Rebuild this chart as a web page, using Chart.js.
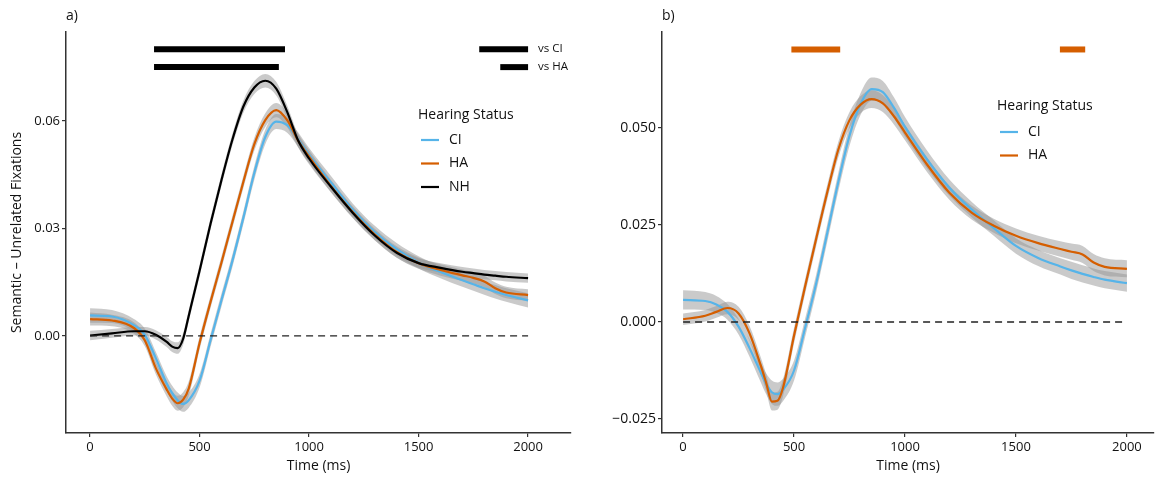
<!DOCTYPE html>
<html><head><meta charset="utf-8">
<script src="https://cdn.jsdelivr.net/npm/chart.js@4.4.1/dist/chart.umd.min.js"></script>
<style>
html,body{margin:0;padding:0;background:#fff;}
#wrap{position:relative;width:1157px;height:479px;overflow:hidden;}
canvas{position:absolute;top:0;}
#ca{left:0;}
#cb{left:580px;}
</style></head><body>
<div id="wrap"><canvas id="ca" width="580" height="479"></canvas><canvas id="cb" width="577" height="479"></canvas></div>
<script>
// ---------- DATA ----------
const xTicks = [0, 500, 1000, 1500, 2000];
const xTickLabels = ['0', '500', '1000', '1500', '2000'];
const yTicksA = [0, 0.03, 0.06];
const yTickLabelsA = ['0.00', '0.03', '0.06'];
const yTicksB = [-0.025, 0, 0.025, 0.05];
const yTickLabelsB = ['\u22120.025', '0.000', '0.025', '0.050'];
const groupsA = ['CI', 'HA', 'NH'];
const groupsB = ['CI', 'HA'];

// Panel a
const timesA = [0,100,200,250,300,350,375,400,425,450,500,550,600,650,700,750,800,850,900,950,1000,1100,1200,1300,1400,1500,1600,1700,1750,1800,1850,1900,2000];
const ciA = [0.0057,0.0054,0.0030,0.0003,-0.0062,-0.0133,-0.0160,-0.0180,-0.0190,-0.0180,-0.0125,-0.0012,0.0100,0.0210,0.0330,0.0455,0.0555,0.0598,0.0588,0.0548,0.0505,0.0428,0.0352,0.0290,0.0242,0.0205,0.0178,0.0155,0.0144,0.0133,0.0123,0.0114,0.0099];
const haA = [0.0047,0.0043,0.0022,-0.0013,-0.0090,-0.0150,-0.0175,-0.0188,-0.0178,-0.0148,-0.0020,0.0095,0.0205,0.0318,0.0430,0.0535,0.0602,0.0630,0.0602,0.0545,0.0500,0.0418,0.0345,0.0283,0.0234,0.0203,0.0184,0.0169,0.0162,0.0152,0.0133,0.0121,0.0114];
const nhA = [0.0001,0.0007,0.0013,0.0013,0.0003,-0.0017,-0.0030,-0.0034,-0.0008,0.0055,0.0182,0.0313,0.0435,0.0548,0.0640,0.0693,0.0712,0.0690,0.0625,0.0545,0.0495,0.0416,0.0343,0.0280,0.0232,0.0203,0.0190,0.0179,0.0175,0.0171,0.0168,0.0165,0.0161];
const ciA_ci = [0.0020,0.0018,0.0017,0.0017,0.0018,0.0020,0.0021,0.0022,0.0022,0.0021,0.0019,0.0018,0.0018,0.0018,0.0018,0.0019,0.0020,0.0021,0.0021,0.0020,0.0019,0.0018,0.0017,0.0017,0.0017,0.0017,0.0017,0.0018,0.0018,0.0018,0.0019,0.0019,0.0020];
const haA_ci = [0.0018,0.0016,0.0016,0.0016,0.0017,0.0019,0.0020,0.0021,0.0021,0.0020,0.0018,0.0017,0.0017,0.0017,0.0017,0.0018,0.0019,0.0020,0.0020,0.0019,0.0018,0.0017,0.0016,0.0016,0.0016,0.0016,0.0016,0.0016,0.0016,0.0016,0.0016,0.0016,0.0016];
const nhA_ci = [0.0013,0.0012,0.0012,0.0012,0.0013,0.0014,0.0015,0.0016,0.0016,0.0016,0.0016,0.0016,0.0016,0.0016,0.0017,0.0018,0.0019,0.0019,0.0018,0.0017,0.0016,0.0015,0.0014,0.0013,0.0013,0.0013,0.0013,0.0013,0.0013,0.0013,0.0013,0.0013,0.0013];
// significance bars (NH vs CI, NH vs HA) and their keys
const sigA_vsCI = [292, 890];
const sigA_vsHA = [292, 862];
const keyA_vsCI = [1777, 2000];
const keyA_vsHA = [1873, 2000];
const sigA_levels = [0.0800, 0.0750];
const sigA_keyLabels = ['vs CI', 'vs HA'];

// Panel b
const timesB = [0,100,150,200,250,300,350,375,400,425,450,500,550,600,650,700,750,800,850,900,950,1000,1100,1200,1300,1400,1500,1600,1700,1750,1800,1850,1900,2000];
const ciB = [0.0057,0.0054,0.0045,0.0026,-0.0012,-0.0068,-0.0130,-0.0160,-0.0181,-0.0186,-0.0175,-0.0125,-0.0015,0.0100,0.0230,0.0362,0.0480,0.0562,0.0600,0.0592,0.0552,0.0503,0.0418,0.0346,0.0290,0.0242,0.0196,0.0165,0.0143,0.0133,0.0124,0.0116,0.0109,0.0100];
const haB = [0.0007,0.0016,0.0026,0.0036,0.0022,-0.0030,-0.0112,-0.0158,-0.0205,-0.0203,-0.0170,-0.0035,0.0092,0.0215,0.0335,0.0445,0.0520,0.0560,0.0574,0.0563,0.0530,0.0488,0.0405,0.0333,0.0282,0.0248,0.0222,0.0203,0.0188,0.0181,0.0174,0.0153,0.0142,0.0137];
const ciB_ci = [0.0025,0.0023,0.0022,0.0020,0.0020,0.0022,0.0025,0.0027,0.0030,0.0030,0.0029,0.0026,0.0024,0.0023,0.0023,0.0024,0.0026,0.0028,0.0030,0.0029,0.0027,0.0025,0.0023,0.0021,0.0020,0.0020,0.0020,0.0021,0.0021,0.0022,0.0022,0.0022,0.0022,0.0022];
const haB_ci = [0.0015,0.0015,0.0015,0.0016,0.0017,0.0019,0.0021,0.0022,0.0023,0.0023,0.0022,0.0020,0.0019,0.0019,0.0019,0.0020,0.0021,0.0022,0.0023,0.0022,0.0021,0.0020,0.0019,0.0018,0.0018,0.0018,0.0019,0.0019,0.0020,0.0021,0.0022,0.0022,0.0022,0.0022];
const sigB_1 = [488, 708];
const sigB_2 = [1698, 1812];
const sigB_level = 0.0702;
const refLine = [0, 2000];

// ---------- STYLE ----------
const FONT = "'Open Sans', 'Noto Sans', sans-serif";
const COLORS = { CI: '#56B4E9', HA: '#D55E00', NH: '#000000' };
const RIBBON = 'rgba(150,150,150,0.5)';
const TXT = '#111111';
const AX = '#333333';

function pts(times, vals) { return times.map((t, i) => ({ x: t, y: vals[i] })); }
function lineDS(label, times, vals) {
  return { label, data: pts(times, vals), borderColor: COLORS[label], borderWidth: 2.2,
    pointRadius: 0, fill: false, order: 1, cubicInterpolationMode: 'monotone' };
}
function ribbonDS(times, vals, hw) {
  const up = times.map((t, i) => ({ x: t, y: vals[i] + hw[i] }));
  const lo = times.map((t, i) => ({ x: t, y: vals[i] - hw[i] }));
  return [
    { label: '_up', data: up, borderWidth: 0, borderColor: 'rgba(0,0,0,0)', pointRadius: 0,
      fill: '+1', backgroundColor: RIBBON, order: 3, cubicInterpolationMode: 'monotone' },
    { label: '_lo', data: lo, borderWidth: 0, borderColor: 'rgba(0,0,0,0)', pointRadius: 0,
      fill: false, order: 3, cubicInterpolationMode: 'monotone' }
  ];
}
function barDS(range, level, color) {
  return { label: '_bar', data: [{ x: range[0], y: level }, { x: range[1], y: level }],
    borderColor: color, borderWidth: 6, borderCapStyle: 'butt', pointRadius: 0, fill: false, order: 0 };
}
function dashDS() {
  return { label: '_zero', data: [{ x: refLine[0], y: 0 }, { x: refLine[1], y: 0 }],
    borderColor: '#222', borderWidth: 1.4, borderDash: [7, 5], pointRadius: 0, fill: false, order: 0 };
}

function scaleOpts(cfg) {
  return {
    x: {
      type: 'linear', min: cfg.xmin, max: cfg.xmax,
      afterBuildTicks: s => { s.ticks = xTicks.map(v => ({ value: v })); },
      afterFit: s => { s.height = 46; },
      ticks: { font: { family: FONT, size: 13 }, color: TXT, padding: 2, maxRotation: 0,
        callback: (v, i) => xTickLabels[i] },
      grid: { display: true, drawOnChartArea: false, drawTicks: true, tickLength: 4, color: AX, lineWidth: 1.2 },
      border: { display: true, color: AX, width: 1.5 },
      title: { display: true, text: 'Time (ms)', font: { family: FONT, size: 14 }, color: TXT, padding: { top: 0, bottom: 5 } }
    },
    y: {
      type: 'linear', min: cfg.ymin, max: cfg.ymax,
      afterBuildTicks: s => { s.ticks = cfg.yTicks.map(v => ({ value: v })); },
      afterFit: s => { s.width = cfg.yWidth; },
      ticks: { font: { family: FONT, size: cfg.yTickSize }, color: TXT, padding: 2,
        callback: (v, i) => cfg.yLabels[i] },
      grid: { display: true, drawOnChartArea: false, drawTicks: true, tickLength: 4, color: AX, lineWidth: 1.2 },
      border: { display: true, color: AX, width: 1.5 },
      title: { display: !!cfg.yTitle, text: cfg.yTitle || '', font: { family: FONT, size: 14 }, color: TXT, padding: { top: 9, bottom: 0 } }
    }
  };
}

function annotPlugin(cfg) {
  return {
    id: 'annot',
    afterDraw(chart) {
      const c = chart.ctx;
      const xs = chart.scales.x, ys = chart.scales.y;
      c.save();
      c.fillStyle = TXT;
      c.textBaseline = 'middle';
      c.textAlign = 'left';
      c.font = '14px ' + FONT;
      c.fillText(cfg.panel, chart.chartArea.left, 16);
      // legend
      const L = cfg.legend;
      c.fillText('Hearing Status', L.x, L.titleY);
      cfg.groups.forEach((g, i) => {
        const y = L.firstY + i * L.step;
        c.strokeStyle = COLORS[g];
        c.lineWidth = 2.2;
        c.beginPath(); c.moveTo(L.x + 3, y); c.lineTo(L.x + 21, y); c.stroke();
        c.fillStyle = TXT;
        c.fillText(g, L.x + 31, y);
      });
      // key labels for significance bars
      if (cfg.keys) {
        c.font = '11.5px ' + FONT;
        cfg.keys.forEach(k => {
          c.fillText(k.text, xs.getPixelForValue(k.x) + 10, ys.getPixelForValue(k.y));
        });
      }
      c.restore();
    }
  };
}

// ---------- PANEL A ----------
new Chart(document.getElementById('ca'), {
  type: 'line',
  data: { datasets: [
    dashDS(),
    barDS(sigA_vsCI, sigA_levels[0], '#000'),
    barDS(sigA_vsHA, sigA_levels[1], '#000'),
    barDS(keyA_vsCI, sigA_levels[0], '#000'),
    barDS(keyA_vsHA, sigA_levels[1], '#000'),
    lineDS('NH', timesA, nhA),
    lineDS('HA', timesA, haA),
    lineDS('CI', timesA, ciA),
    ...ribbonDS(timesA, ciA, ciA_ci),
    ...ribbonDS(timesA, haA, haA_ci),
    ...ribbonDS(timesA, nhA, nhA_ci)
  ]},
  options: {
    responsive: false, animation: false, devicePixelRatio: 1,
    layout: { padding: { top: 32, right: 9, left: 0, bottom: 0 } },
    plugins: { legend: { display: false }, tooltip: { enabled: false }, filler: { propagate: false } },
    elements: { point: { radius: 0 } },
    scales: scaleOpts({ xmin: -110, xmax: 2196, ymin: -0.0271, ymax: 0.0848, yTicks: yTicksA, yLabels: yTickLabelsA,
      yWidth: 66, yTickSize: 13, yTitle: 'Semantic \u2013 Unrelated Fixations' })
  },
  plugins: [annotPlugin({ panel: 'a)', groups: groupsA,
    legend: { x: 418, titleY: 115, firstY: 140, step: 23.5 },
    keys: [{ text: sigA_keyLabels[0], x: keyA_vsCI[1], y: sigA_levels[0] },
           { text: sigA_keyLabels[1], x: keyA_vsHA[1], y: sigA_levels[1] }] })]
});

// ---------- PANEL B ----------
new Chart(document.getElementById('cb'), {
  type: 'line',
  data: { datasets: [
    dashDS(),
    barDS(sigB_1, sigB_level, COLORS.HA),
    barDS(sigB_2, sigB_level, COLORS.HA),
    lineDS('HA', timesB, haB),
    lineDS('CI', timesB, ciB),
    ...ribbonDS(timesB, ciB, ciB_ci),
    ...ribbonDS(timesB, haB, haB_ci)
  ]},
  options: {
    responsive: false, animation: false, devicePixelRatio: 1,
    layout: { padding: { top: 32, right: 3, left: 0, bottom: 0 } },
    plugins: { legend: { display: false }, tooltip: { enabled: false }, filler: { propagate: false } },
    elements: { point: { radius: 0 } },
    scales: scaleOpts({ xmin: -95, xmax: 2122, ymin: -0.0286, ymax: 0.0747, yTicks: yTicksB, yLabels: yTickLabelsB,
      yWidth: 82, yTickSize: 14, yTitle: null })
  },
  plugins: [annotPlugin({ panel: 'b)', groups: groupsB,
    legend: { x: 417, titleY: 106, firstY: 132, step: 23.5 } })]
});
</script>
</body></html>
